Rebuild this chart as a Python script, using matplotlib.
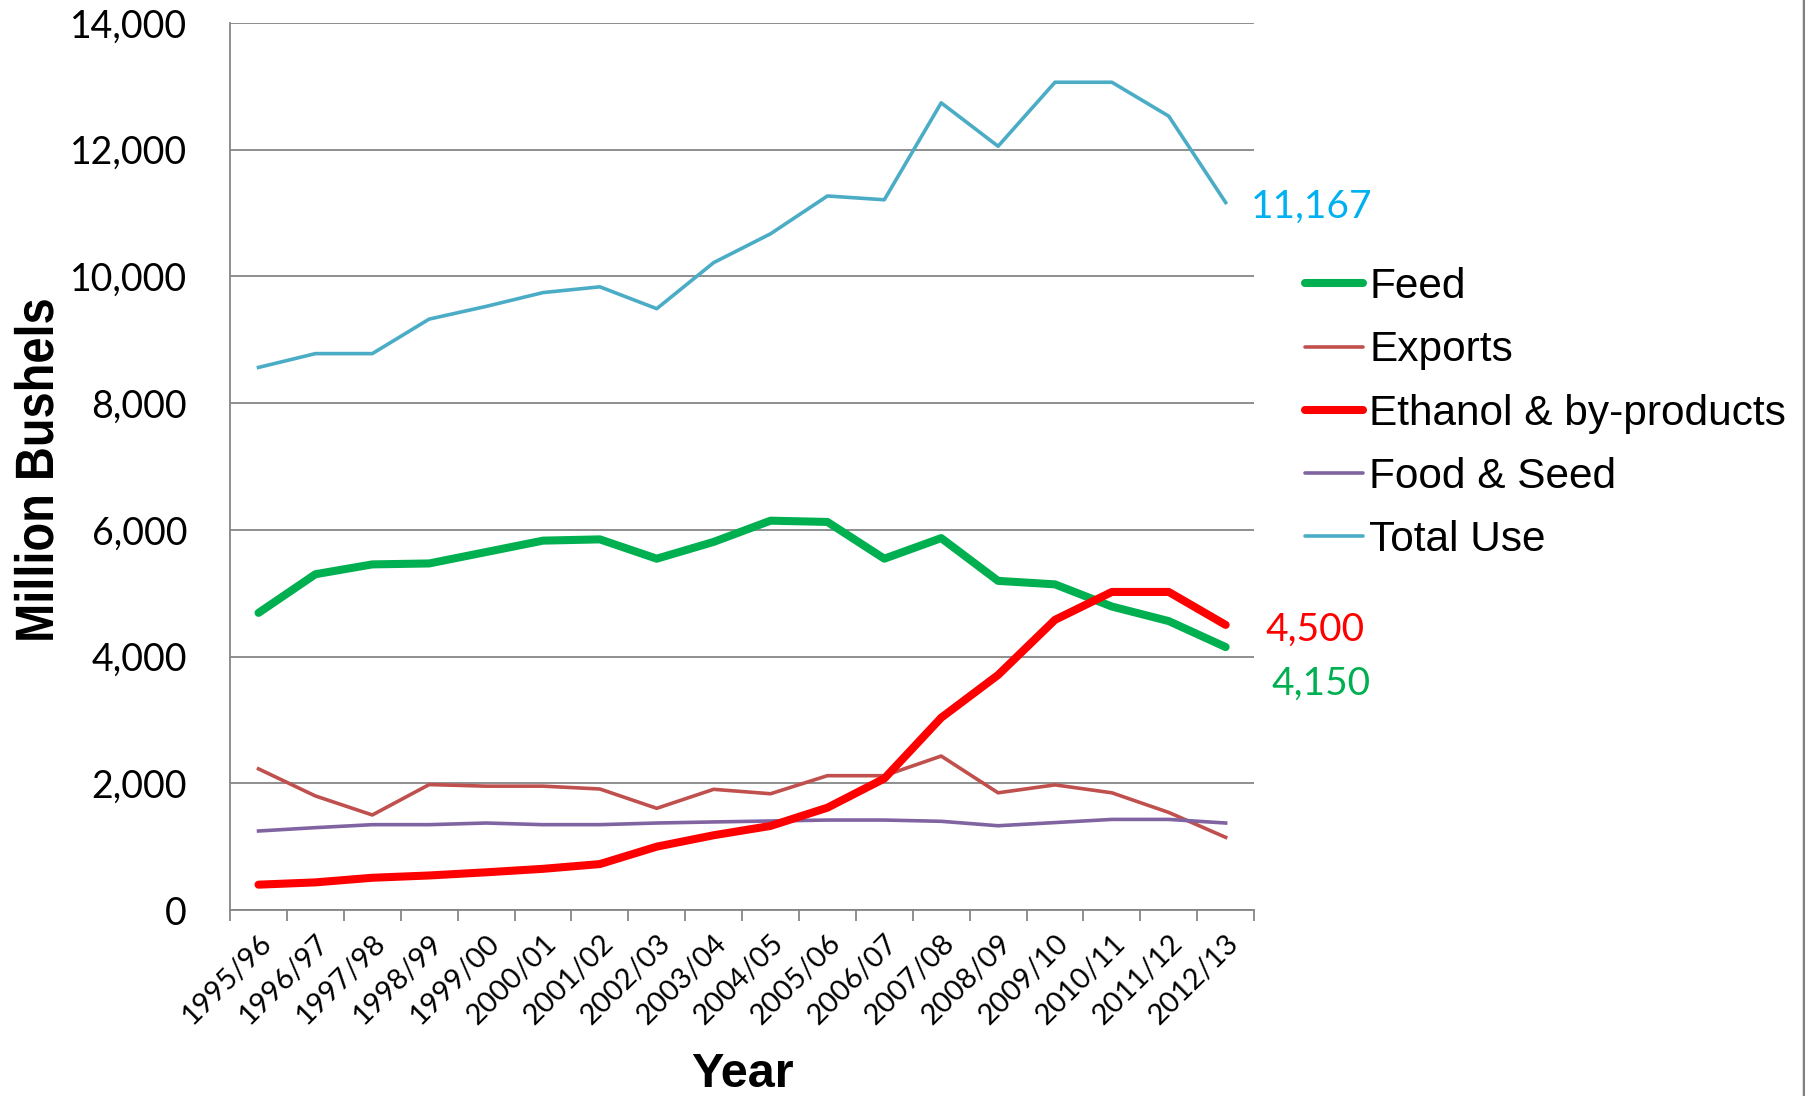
import matplotlib
matplotlib.use("Agg")
import matplotlib.pyplot as plt
import matplotlib.transforms as mtransforms
from matplotlib.font_manager import FontProperties
from matplotlib.lines import Line2D
from matplotlib.patches import PathPatch
from matplotlib.textpath import TextPath
from matplotlib.ticker import FuncFormatter, FixedLocator

years = ["1995/96", "1996/97", "1997/98", "1998/99", "1999/00", "2000/01",
         "2001/02", "2002/03", "2003/04", "2004/05", "2005/06", "2006/07",
         "2007/08", "2008/09", "2009/10", "2010/11", "2011/12", "2012/13"]

# million bushels
feed = [4690, 5300, 5455, 5470, 5650, 5830, 5850, 5545, 5810, 6145,
        6125, 5545, 5870, 5195, 5140, 4790, 4560, 4150]
exports = [2228, 1800, 1500, 1980, 1955, 1955, 1910, 1605, 1905, 1835,
           2120, 2120, 2430, 1850, 1975, 1850, 1540, 1147]
ethanol = [400, 436, 509, 545, 595, 650, 725, 1000, 1180, 1327,
           1615, 2075, 3035, 3710, 4580, 5020, 5020, 4500]
food_seed = [1247, 1300, 1347, 1347, 1373, 1347, 1347, 1373, 1390, 1405,
             1420, 1420, 1400, 1330, 1380, 1430, 1430, 1373]
total_use = [8564, 8782, 8782, 9327, 9527, 9745, 9836, 9491, 10218, 10673,
             11270, 11210, 12740, 12055, 13065, 13065, 12530, 11167]

tick_font = "Lato"
text_font = "Liberation Sans"

W, H = 1806, 1096
fig = plt.figure(figsize=(W / 100, H / 100), dpi=100)
ax = fig.add_axes([0.1274, 0.1697, 0.567, 0.8093])

x = list(range(len(years)))
ax.plot(x, feed, color="#00B050", lw=5.8, solid_capstyle="round", label="Feed", zorder=4)
ax.plot(x, exports, color="#C0504D", lw=2.6, label="Exports", zorder=3)
ax.plot(x, ethanol, color="#FF0000", lw=5.8, solid_capstyle="round",
        label="Ethanol & by-products", zorder=5)
ax.plot(x, food_seed, color="#8064A2", lw=2.6, label="Food & Seed", zorder=3)
ax.plot(x, total_use, color="#4BACC6", lw=2.6, label="Total Use", zorder=3)

ax.set_xlim(-0.5, len(years) - 0.5)
ax.set_ylim(0, 14000)
ax.set_yticks(range(0, 14001, 2000))
ax.yaxis.set_major_formatter(FuncFormatter(lambda v, p: f"{int(v):,}"))
ax.yaxis.grid(True, color="#868686", lw=1.3)
ax.set_axisbelow(True)

ax.set_xticks(x)
ax.set_xticklabels(years, rotation=45, ha="right", rotation_mode="anchor",
                   fontsize=21, family=tick_font)
shift = mtransforms.ScaledTranslation(-5 / 100, 0, fig.dpi_scale_trans)
for lbl in ax.get_xticklabels():
    lbl.set_transform(lbl.get_transform() + shift)
ax.tick_params(axis="x", which="major", length=0, pad=14)
ax.xaxis.set_minor_locator(FixedLocator([i - 0.5 for i in range(len(years) + 1)]))
ax.tick_params(axis="x", which="minor", length=8, width=1.3, color="#868686")
ax.tick_params(axis="y", length=0, pad=31, labelsize=27)
for lbl in ax.get_yticklabels():
    lbl.set_family(tick_font)

for side in ["top", "right"]:
    ax.spines[side].set_visible(False)
for side in ["left", "bottom"]:
    ax.spines[side].set_color("#868686")
    ax.spines[side].set_linewidth(1.3)

ax.set_xlabel("Year", fontsize=35, fontweight="bold", family=text_font)
ax.xaxis.label.set_va("baseline")
ax.xaxis.set_label_coords(0.5, -0.199)

# condensed bold y-axis title, drawn as a path squeezed along its length
ylab = TextPath((0, 0), "Million Bushels", size=54,
                prop=FontProperties(family=text_font, weight="bold"))
ext = ylab.get_extents()
ylab_tf = (mtransforms.Affine2D()
           .translate(-(ext.x0 + ext.width / 2), 0)
           .scale(0.87, 1.0)
           .rotate_deg(90)
           .translate(53, H - 470))
fig.add_artist(PathPatch(ylab_tf.transform_path(ylab), color="black", lw=0,
                         transform=mtransforms.IdentityTransform()))

# end-of-series value labels
last = len(years) - 1
ax.annotate(f"{total_use[-1]:,}", (last, total_use[-1]), xytext=(18, -3),
            textcoords="offset points", va="center", ha="left",
            fontsize=28, family=tick_font, color="#00B0F0")
ax.annotate(f"{ethanol[-1]:,}", (last, ethanol[-1]), xytext=(29, -3.5),
            textcoords="offset points", va="center", ha="left",
            fontsize=28, family=tick_font, color="#FF0000")
ax.annotate(f"{feed[-1]:,}", (last, feed[-1]), xytext=(33, -26.5),
            textcoords="offset points", va="center", ha="left",
            fontsize=28, family=tick_font, color="#00B050")

leg = ax.legend(loc="upper left", bbox_to_anchor=(1.033, 0.744), frameon=False,
                prop={"family": text_font, "size": 30.5}, handlelength=1.37,
                handletextpad=0.15, labelspacing=0.55, borderaxespad=0)
for h in leg.get_lines():
    h.set_solid_capstyle("round")

fig.add_artist(Line2D([0.9989, 0.9989], [0, 1], color="#7F7F7F", lw=2.5,
                      transform=fig.transFigure))

fig.savefig("out.png", dpi=100)
